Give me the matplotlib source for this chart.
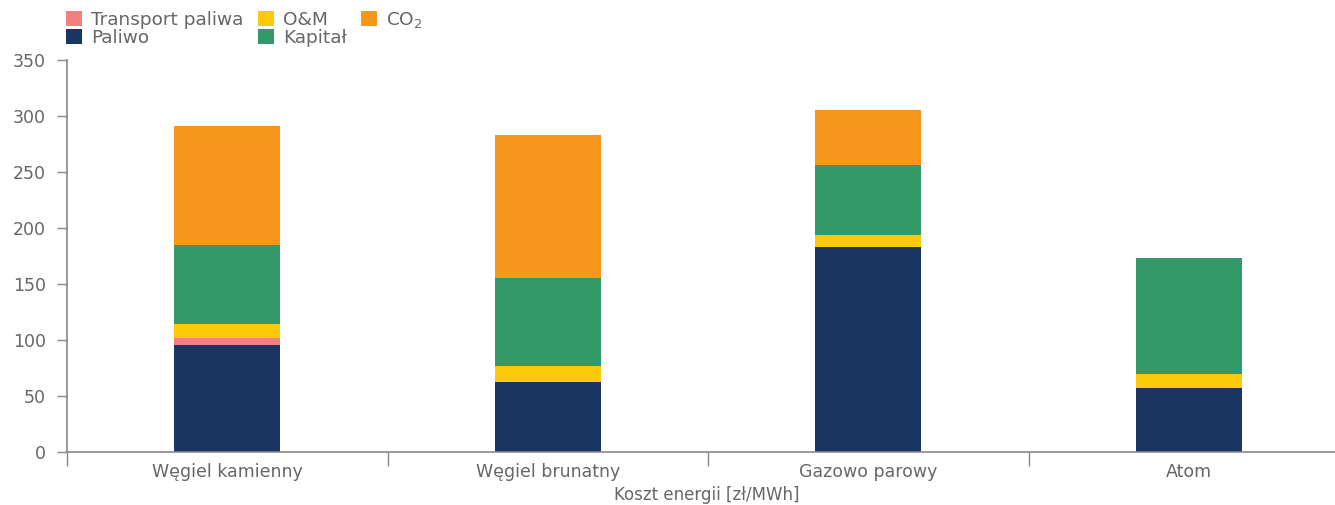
import matplotlib.pyplot as plt
import numpy as np

plt.rcParams['font.family'] = ['DejaVu Sans']

# dane
kategorie = ["Węgiel kamienny", "Węgiel brunatny", "Gazowo parowy", "Atom"]
paliwo = [95.5, 62.5, 183.0, 57.0]
transport = [6.5, 0.0, 0.0, 0.0]
om = [12.5, 14.5, 10.5, 12.5]
kapital = [70.5, 78.5, 62.5, 103.5]
co2 = [106.0, 127.5, 49.0, 0.0]

kolory = {
    "Paliwo": "#1A3562",
    "Transport paliwa": "#F47F7F",
    "O&M": "#FDCA0A",
    "Kapitał": "#339968",
    "CO$_2$": "#F7971E",
}
szary = "#666666"

fig = plt.figure(figsize=(13.35, 5.05), dpi=100)
ax = fig.add_axes([67 / 1335, 1 - 452 / 505, (1349 - 67) / 1335, 392 / 505])

x = np.arange(len(kategorie))
szer = 0.33
dol = np.zeros(len(kategorie))
seria = [("Paliwo", paliwo), ("Transport paliwa", transport), ("O&M", om),
         ("Kapitał", kapital), ("CO$_2$", co2)]
uchwyty = {}
for nazwa, wartosci in seria:
    b = ax.bar(x, wartosci, szer, bottom=dol, color=kolory[nazwa], label=nazwa)
    uchwyty[nazwa] = b
    dol += np.array(wartosci)

ax.set_xlim(-0.5, 3.5)
ax.set_ylim(0, 350)
ax.set_yticks(range(0, 351, 50))

# osie
for s in ["top", "right"]:
    ax.spines[s].set_visible(False)
for s in ["left", "bottom"]:
    ax.spines[s].set_color("#888888")
    ax.spines[s].set_linewidth(1.2)

ax.set_xticks([-0.5, 0.5, 1.5, 2.5], minor=False)
ax.set_xticklabels([])
ax.set_xticks(x, minor=True)
ax.set_xticklabels(kategorie, minor=True)
ax.tick_params(axis="x", which="major", length=10, color="#888888", width=1)
ax.tick_params(axis="x", which="minor", length=0, pad=8, labelsize=12.5, labelcolor=szary)
ax.tick_params(axis="y", length=7, color="#888888", width=1, pad=8,
               labelsize=12.5, labelcolor=szary)

# podpis osi x (w oryginale przycięty u dołu, tu lekko podniesiony)
ax.set_xlabel("Koszt energii [zł/MWh]", fontsize=12, color=szary, va="bottom")
ax.xaxis.set_label_coords((707 - 67) / (1349 - 67), -(504 - 452) / 392)

# legenda
kolejnosc = ["Transport paliwa", "Paliwo", "O&M", "Kapitał", "CO$_2$"]
leg = fig.legend([uchwyty[k] for k in kolejnosc], kolejnosc, ncol=3,
                 loc="upper left", bbox_to_anchor=(66 / 1335, 1 - 10 / 505),
                 frameon=False, fontsize=13.3, handlelength=0.85, handleheight=0.85,
                 handletextpad=0.5, columnspacing=0.8, labelspacing=0.0,
                 borderaxespad=0, borderpad=0)
for t in leg.get_texts():
    t.set_color(szary)

plt.savefig("out.png", dpi=100)
